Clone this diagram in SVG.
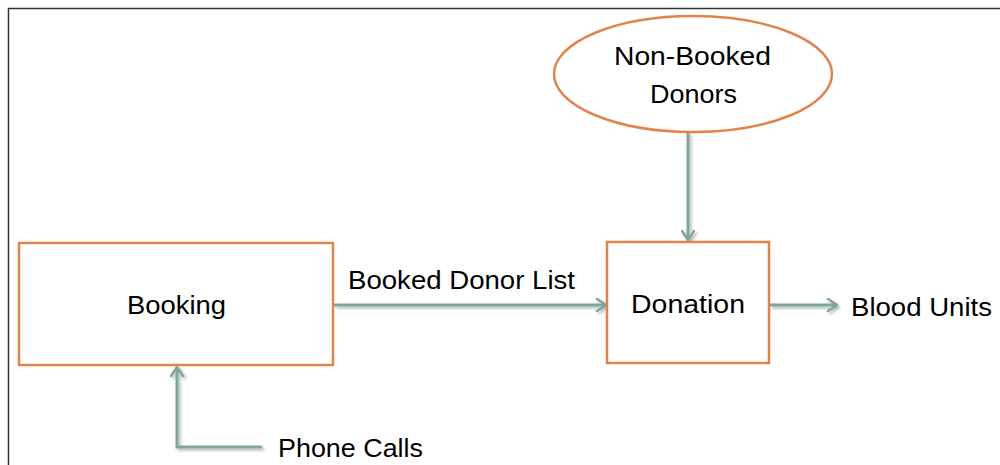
<svg xmlns="http://www.w3.org/2000/svg" width="1000" height="465" viewBox="0 0 1000 465">
<defs>
<style>
.node{fill:#fff;stroke:#e0844c;stroke-width:2.5}
.lbl{font-family:"Liberation Sans",Arial,sans-serif;font-size:25px;fill:#000}
.conn{fill:none;stroke:#7da79a;stroke-width:3}
</style>
<marker id="ah" viewBox="0 0 14 14" refX="13" refY="7" markerWidth="14" markerHeight="14" markerUnits="userSpaceOnUse" orient="auto">
<polyline points="4,1 13,7 4,13" fill="none" stroke="#7da79a" stroke-width="2.5" stroke-linecap="round" stroke-linejoin="round"/>
</marker>
<filter id="sh" x="-20%" y="-20%" width="140%" height="140%">
<feGaussianBlur in="SourceAlpha" stdDeviation="1.5"/>
<feOffset dx="2" dy="2" result="b"/>
<feComponentTransfer><feFuncA type="linear" slope="0.3"/></feComponentTransfer>
<feMerge><feMergeNode/><feMergeNode in="SourceGraphic"/></feMerge>
</filter>
</defs>
<rect width="1000" height="465" fill="#fff"/>
<path d="M8.5 465 V8.5 H1000" fill="none" stroke="#333" stroke-width="1.5"/>
<g id="connectors" filter="url(#sh)">
<path class="conn" d="M688 132 V240" marker-end="url(#ah)"/>
<path class="conn" d="M334 305 H606" marker-end="url(#ah)"/>
<path class="conn" d="M770 305 H837" marker-end="url(#ah)"/>
<path class="conn" d="M262 447 H177 V367" marker-end="url(#ah)"/>
</g>
<g id="booking">
<rect class="node" x="19" y="243" width="314" height="122"/>
<text class="lbl" x="127" y="314" textLength="99" lengthAdjust="spacingAndGlyphs">Booking</text>
</g>
<g id="donation">
<rect class="node" x="607" y="242" width="162" height="121"/>
<text class="lbl" x="631" y="313" textLength="114" lengthAdjust="spacingAndGlyphs">Donation</text>
</g>
<g id="non-booked-donors">
<ellipse class="node" cx="693" cy="74" rx="139" ry="58"/>
<text class="lbl" x="614" y="65" textLength="157" lengthAdjust="spacingAndGlyphs">Non-Booked</text>
<text class="lbl" x="650" y="103" textLength="87" lengthAdjust="spacingAndGlyphs">Donors</text>
</g>
<g id="labels">
<text class="lbl" x="348" y="289" textLength="227" lengthAdjust="spacingAndGlyphs">Booked Donor List</text>
<text class="lbl" x="851" y="316" textLength="141" lengthAdjust="spacingAndGlyphs">Blood Units</text>
<text class="lbl" x="278" y="457" textLength="145" lengthAdjust="spacingAndGlyphs">Phone Calls</text>
</g>
</svg>
